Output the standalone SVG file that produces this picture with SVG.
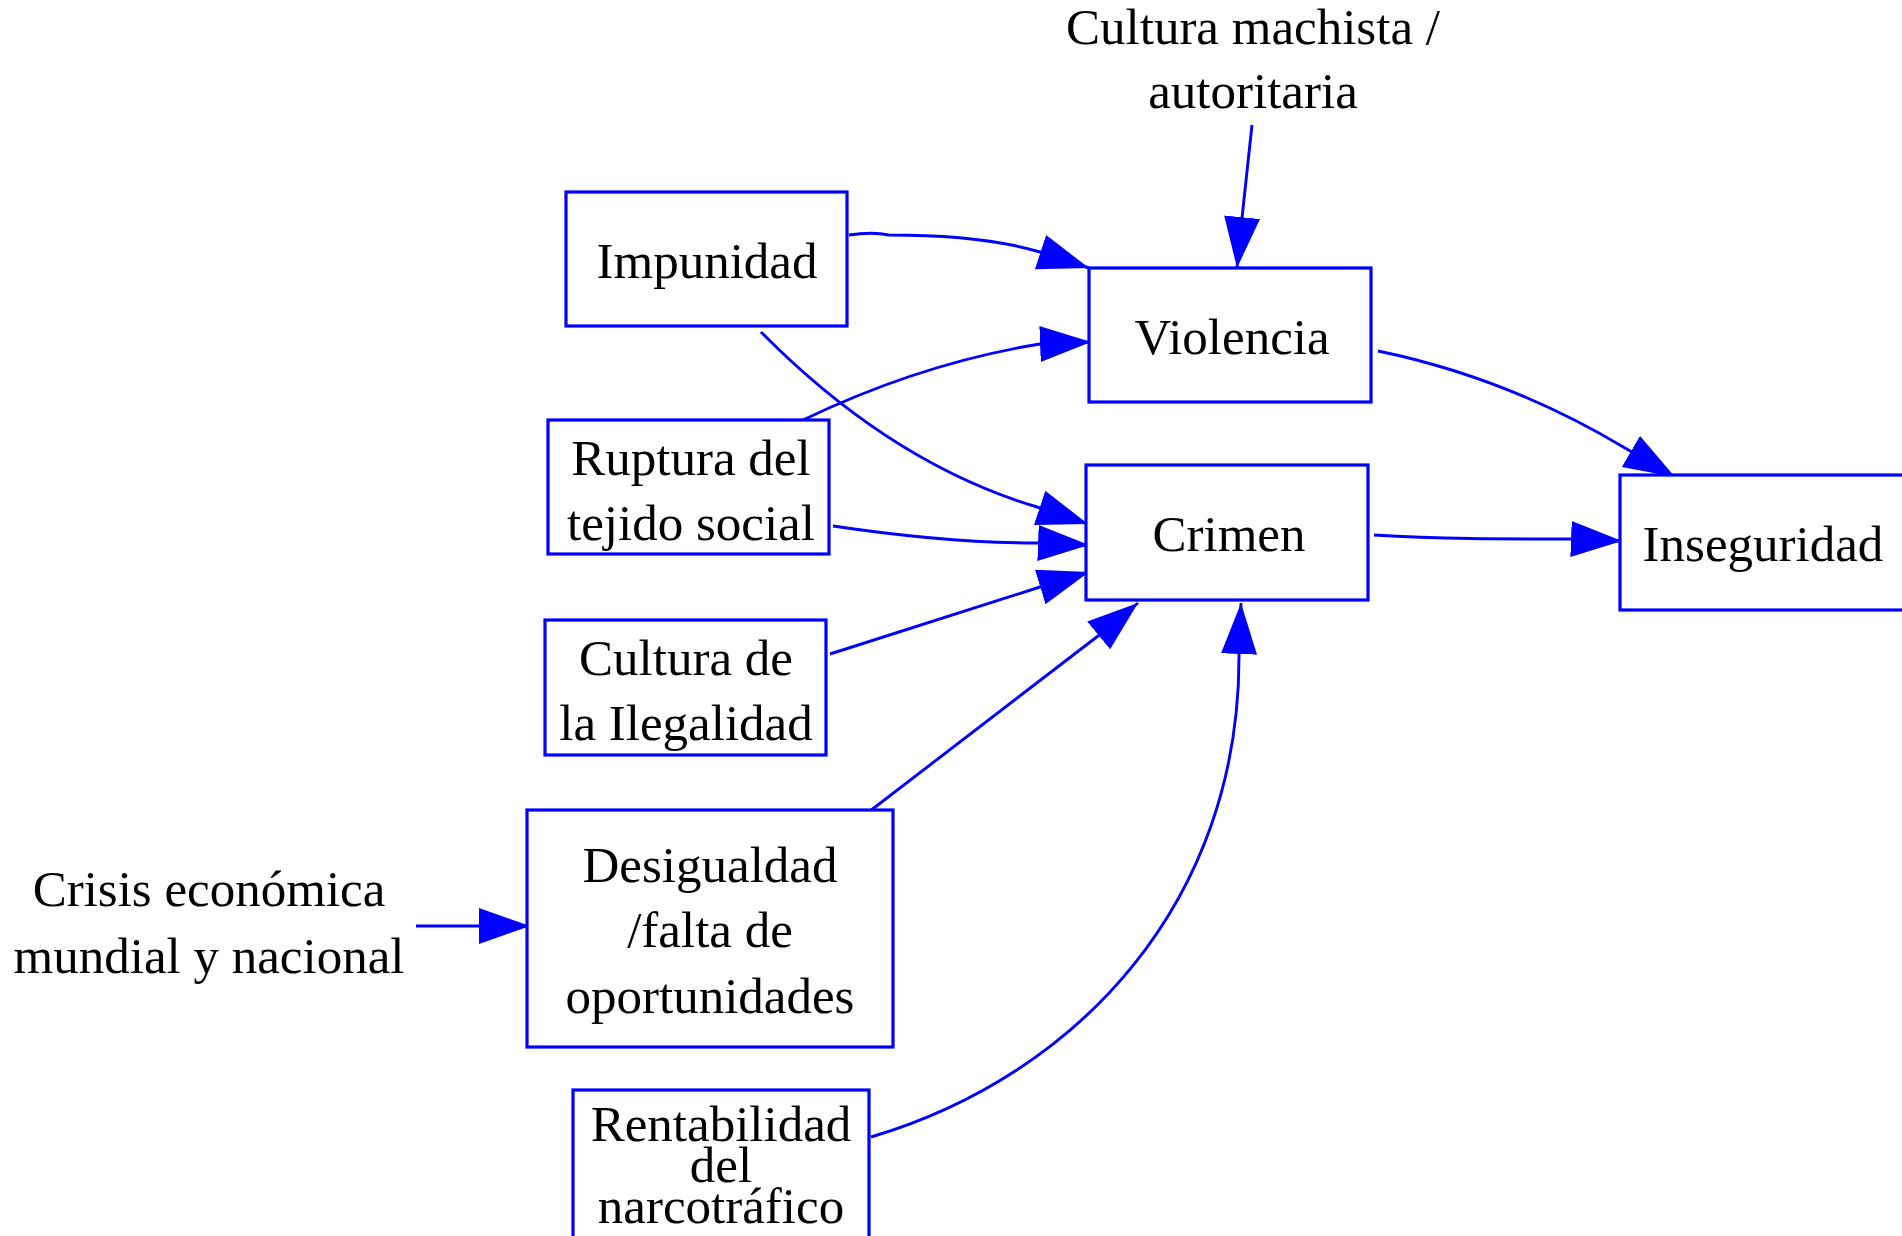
<svg xmlns="http://www.w3.org/2000/svg" width="1902" height="1236" viewBox="0 0 1902 1236">
<defs>
<style>
.box{fill:#fff;stroke:#0000ff;stroke-width:3.2}
.lbl{font-family:"Liberation Serif","Times New Roman",serif;font-size:51px;fill:#000;text-anchor:middle}
.edge{fill:none;stroke:#0000ff;stroke-width:2.9;marker-end:url(#arr)}
</style>
<marker id="arr" markerUnits="userSpaceOnUse" markerWidth="54" markerHeight="38" refX="51" refY="18" orient="auto" viewBox="0 0 54 38">
<path d="M0,0 L51,18 L0,36 z" fill="#0000ff"/>
</marker>
</defs>
<rect width="1902" height="1236" fill="#fff"/>
<g id="connectors">
<path class="edge" d="M849,235 C862,233 875,232 889,235 C950,235 1000,240 1040,252 L1089,268"/>
<path class="edge" d="M1252,125 L1242,218 L1237,268"/>
<path class="edge" d="M1378,351 C1470,370 1550,403 1625,448 L1675,477"/>
<path class="edge" d="M803,420 C880,383 960,357 1040,344 L1091,342"/>
<path class="edge" d="M761,332 C840,412 930,475 1037,507 L1088,524"/>
<path class="edge" d="M833,526 C900,536 970,543 1037,543 L1089,545"/>
<path class="edge" d="M830,654 L1040,587 L1089,572"/>
<path class="edge" d="M870,811 L1098,636 L1138,603"/>
<path class="edge" d="M871,1137 C1080,1075 1240,900 1239,655 L1241,603"/>
<path class="edge" d="M1374,535 C1440,539 1500,539 1571,539 L1622,541"/>
<path class="edge" d="M416,926 L478,926 L530,926"/>
</g>
<g id="impunidad">
<rect class="box" x="566" y="192" width="281" height="134"/>
<text class="lbl" x="707" y="278">Impunidad</text>
</g>
<g id="violencia">
<rect class="box" x="1089" y="268" width="282" height="134"/>
<text class="lbl" x="1232" y="354">Violencia</text>
</g>
<g id="ruptura">
<rect class="box" x="548" y="420" width="281" height="134"/>
<text class="lbl" x="691" y="475">Ruptura del</text>
<text class="lbl" x="691" y="540">tejido social</text>
</g>
<g id="crimen">
<rect class="box" x="1086" y="465" width="282" height="135"/>
<text class="lbl" x="1229" y="551">Crimen</text>
</g>
<g id="inseguridad">
<rect class="box" x="1620" y="475" width="284" height="135"/>
<text class="lbl" x="1763" y="561">Inseguridad</text>
</g>
<g id="ilegalidad">
<rect class="box" x="545" y="620" width="281" height="135"/>
<text class="lbl" x="686" y="675">Cultura de</text>
<text class="lbl" x="686" y="740">la Ilegalidad</text>
</g>
<g id="desigualdad">
<rect class="box" x="527" y="810" width="366" height="237"/>
<text class="lbl" x="710" y="882">Desigualdad</text>
<text class="lbl" x="710" y="947">/falta de</text>
<text class="lbl" x="710" y="1013">oportunidades</text>
</g>
<g id="rentabilidad">
<rect class="box" x="573" y="1090" width="296" height="160"/>
<text class="lbl" x="721" y="1141">Rentabilidad</text>
<text class="lbl" x="721" y="1182">del</text>
<text class="lbl" x="721" y="1223">narcotráfico</text>
</g>
<g id="crisis">
<text class="lbl" x="209" y="906">Crisis económica</text>
<text class="lbl" x="209" y="973">mundial y nacional</text>
</g>
<g id="machista">
<text class="lbl" x="1253" y="44">Cultura machista /</text>
<text class="lbl" x="1253" y="108">autoritaria</text>
</g>
</svg>
